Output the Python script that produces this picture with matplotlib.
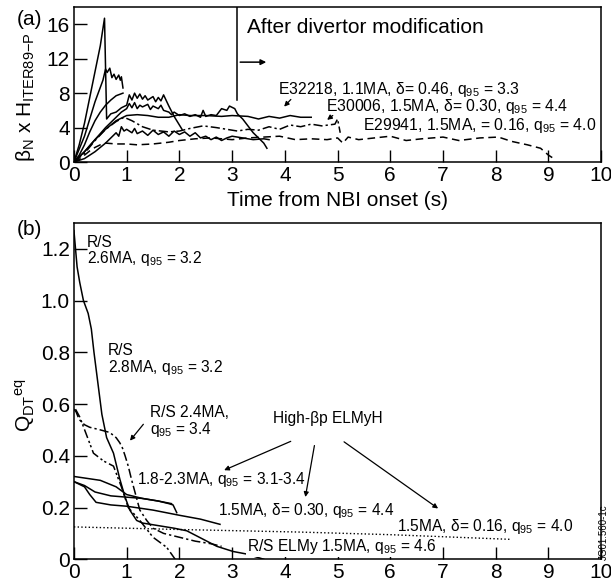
import matplotlib
matplotlib.use("Agg")
import matplotlib.pyplot as plt

plt.rcParams['font.family'] = ['Liberation Sans', 'DejaVu Sans']
plt.rcParams['mathtext.fontset'] = 'custom'
plt.rcParams['mathtext.rm'] = 'Liberation Sans'
plt.rcParams['mathtext.it'] = 'Liberation Sans:italic'

# ---- panel (a): beta_N x H89 vs time from NBI onset ----
spike_t = [0, 0.1, 0.2, 0.3, 0.4, 0.5, 0.58, 0.62, 0.7, 0.8, 0.9, 1.0, 1.05, 1.1, 1.15,
           1.2, 1.25, 1.3, 1.35, 1.4, 1.5, 1.55, 1.6, 1.65, 1.7, 1.8, 1.9, 2.0, 2.05]
spike_v = [0, 2.0, 4.5, 7.5, 10.5, 13.5, 16.7, 5.0, 5.6, 5.8, 6.3, 6.6, 7.8, 7.2, 8.0,
           7.4, 7.9, 7.3, 7.7, 7.2, 7.6, 7.0, 7.5, 7.1, 7.8, 6.5, 5.3, 4.3, 3.8]

peak11_t = [0, 0.2, 0.4, 0.55, 0.6, 0.63, 0.68, 0.72, 0.76, 0.8, 0.85, 0.88, 0.9, 0.93]
peak11_v = [0, 3.0, 7.0, 9.5, 10.8, 10.4, 10.9, 9.8, 10.2, 9.6, 10.1, 9.5, 9.9, 8.6]

rise8_t = [0, 0.1, 0.2, 0.3, 0.4, 0.5, 0.6, 0.7, 0.8, 0.93]
rise8_v = [0, 0.8, 2.0, 3.5, 4.8, 5.8, 6.6, 7.2, 7.7, 8.0]

noisy_t = [0, 0.2, 0.4, 0.6, 0.8, 0.9, 1.0, 1.05, 1.1, 1.15, 1.2, 1.25, 1.3, 1.4, 1.45,
           1.5, 1.6, 1.65, 1.7, 1.8, 1.85, 1.9, 2.0, 2.1, 2.2, 2.3, 2.4, 2.45, 2.5, 2.6,
           2.7, 2.8, 2.9, 2.95, 3.05, 3.1, 3.2, 3.3, 3.4, 3.5, 3.6, 3.66]
noisy_v = [0, 1.2, 2.6, 4.0, 5.2, 5.8, 6.2, 6.8, 6.3, 6.9, 6.2, 6.6, 6.4, 6.7, 6.1,
           6.5, 6.2, 6.6, 6.0, 5.8, 5.5, 5.8, 5.4, 5.6, 5.3, 5.5, 5.2, 6.0, 5.3, 5.5,
           5.4, 6.2, 6.0, 6.5, 6.2, 5.6, 5.0, 4.2, 3.4, 2.8, 2.2, 1.6]

e32218_t = [0, 0.2, 0.4, 0.6, 0.8, 1.0, 1.2, 1.4, 1.6, 1.8, 2.0, 2.2, 2.5, 2.8, 3.0,
            3.3, 3.5, 3.7, 3.9, 4.1, 4.3, 4.5]
e32218_v = [0, 1.2, 2.6, 3.8, 4.8, 5.4, 5.5, 5.4, 5.2, 5.2, 5.5, 5.4, 5.4, 5.3, 5.4,
            5.3, 5.0, 5.3, 5.1, 5.4, 5.2, 5.2]

low_t = [0, 0.2, 0.4, 0.6, 0.7, 0.8, 0.85, 0.9, 0.95, 1.0, 1.1, 1.15, 1.2, 1.3, 1.4,
         1.5, 1.6, 1.7, 1.8, 1.9, 2.0, 2.1, 2.2, 2.3, 2.4, 2.5, 2.6, 2.7, 2.8, 2.9,
         3.0, 3.2, 3.4, 3.6, 3.7]
low_v = [0, 0.4, 1.2, 2.2, 2.8, 3.4, 3.0, 4.1, 3.6, 3.8, 3.4, 3.9, 3.3, 3.6, 3.1,
         3.7, 3.2, 3.5, 3.0, 3.6, 3.2, 3.5, 3.0, 3.4, 2.8, 3.0, 2.6, 2.9, 2.5, 2.8,
         3.0, 2.8, 2.6, 2.7, 2.6]

e30006_t = [0, 0.2, 0.4, 0.6, 0.8, 0.95, 1.1, 1.3, 1.5, 1.8, 2.0, 2.2, 2.45, 2.7, 2.9,
            3.1, 3.3, 3.5, 3.7, 3.9, 4.1, 4.3, 4.5, 4.7, 4.95, 5.0, 5.05]
e30006_v = [0, 1.0, 2.5, 3.8, 4.7, 5.2, 4.8, 4.1, 3.7, 3.5, 3.6, 3.9, 4.2, 4.0, 3.8,
            3.6, 3.8, 3.7, 4.1, 3.8, 4.3, 4.1, 4.4, 4.2, 4.4, 5.0, 3.4]

e29941_t = [0, 0.1, 0.2, 0.3, 0.4, 0.5, 0.6, 0.8, 1.0, 1.2, 1.5, 1.8, 2.0, 2.3, 2.6,
            3.0, 3.3, 3.6, 3.9, 4.2, 4.5, 4.8, 5.0, 5.1, 5.2, 5.4, 5.7, 6.0, 6.3, 6.6,
            7.0, 7.3, 7.7, 8.05, 8.3, 8.6, 8.85, 9.0, 9.1]
e29941_v = [0, 0.3, 0.8, 1.3, 1.7, 2.0, 2.2, 2.1, 2.1, 2.0, 2.1, 2.3, 2.5, 2.7, 2.8,
            2.6, 2.8, 2.9, 3.0, 2.6, 2.7, 2.6, 2.8, 2.2, 2.9, 2.6, 2.8, 3.0, 2.5, 2.7,
            2.9, 2.5, 2.8, 2.9, 2.4, 2.0, 1.6, 0.8, 0.4]

# ---- panel (b): Q_DT equivalent vs same time ----
rs_t = [0, 0.03, 0.06, 0.11, 0.18, 0.27, 0.33, 0.38, 0.43, 0.53, 0.62, 0.75, 0.87,
        0.97, 1.06, 1.19, 1.3, 1.6, 1.9, 2.14, 2.33, 2.71, 3.02, 3.28, 3.6]
rs_v = [1.27, 1.2, 1.13, 1.07, 1.0, 0.95, 0.89, 0.8, 0.72, 0.56, 0.47, 0.41, 0.31,
        0.24, 0.19, 0.15, 0.14, 0.13, 0.12, 0.11, 0.09, 0.05, 0.03, 0.02, 0.0]

rs24_t = [0, 0.04, 0.1, 0.2, 0.3, 0.5, 0.68, 0.8, 0.87, 0.92, 0.97, 1.03, 1.09, 1.17,
          1.25, 1.38, 1.5, 1.7, 2.0, 2.3, 2.6, 2.8]
rs24_v = [0.58, 0.57, 0.54, 0.52, 0.51, 0.50, 0.49, 0.47, 0.45, 0.43, 0.40, 0.36, 0.31,
          0.25, 0.19, 0.15, 0.12, 0.10, 0.085, 0.07, 0.06, 0.05]

rs2_t = [0.03, 0.11, 0.24, 0.37, 0.56, 0.75, 0.9, 1.03, 1.25, 1.5, 1.76, 1.92]
rs2_v = [0.58, 0.55, 0.48, 0.41, 0.38, 0.36, 0.28, 0.20, 0.15, 0.085, 0.046, 0.0]

hbp1_t = [0, 0.5, 0.8, 1.0, 1.3, 1.6, 1.8, 1.88, 1.95]
hbp1_v = [0.32, 0.305, 0.28, 0.25, 0.235, 0.225, 0.215, 0.21, 0.18]
hbp2_t = [0, 0.2, 0.3, 0.42, 0.7, 1.0, 1.5, 2.0, 2.4, 2.77]
hbp2_v = [0.30, 0.28, 0.25, 0.22, 0.21, 0.205, 0.19, 0.17, 0.155, 0.135]
hbp3_t = [0, 0.2, 0.4, 0.7, 1.0, 1.3, 1.6, 1.85]
hbp3_v = [0.30, 0.285, 0.26, 0.245, 0.24, 0.235, 0.225, 0.215]

elmy_t = [0, 2.0, 4.3, 6.0, 8.27]
elmy_v = [0.125, 0.115, 0.105, 0.095, 0.077]

fig = plt.figure(figsize=(6.11, 5.85), dpi=100)
ax1 = fig.add_axes([0.121, 0.723, 0.863, 0.265])
ax2 = fig.add_axes([0.121, 0.044, 0.863, 0.575])

lw = 1.1
ax1.plot(spike_t, spike_v, 'k-', lw=lw)
ax1.plot(peak11_t, peak11_v, 'k-', lw=lw)
ax1.plot(rise8_t, rise8_v, 'k-', lw=lw)
ax1.plot(noisy_t, noisy_v, 'k-', lw=lw)
ax1.plot(e32218_t, e32218_v, 'k-', lw=lw)
ax1.plot(low_t, low_v, 'k-', lw=lw)
ax1.plot(e30006_t, e30006_v, 'k', lw=lw, dashes=[6, 2, 1.5, 2])
ax1.plot(e29941_t, e29941_v, 'k', lw=lw, dashes=[5, 3])

# divertor modification marker
ax1.plot([3.1, 3.1], [7.2, 18], 'k-', lw=lw)
ax1.annotate('', xy=(3.7, 11.6), xytext=(3.1, 11.6),
             arrowprops=dict(arrowstyle='-|>', color='k', lw=lw, mutation_scale=8))
ax1.text(3.28, 15.6, 'After divertor modification', fontsize=15, va='center')

fa = 11.3
ax1.text(3.87, 8.4, 'E32218, 1.1MA, δ= 0.46, q$_{95}$ = 3.3', fontsize=fa, va='center')
ax1.annotate('', xy=(3.95, 6.2), xytext=(4.15, 7.5),
             arrowprops=dict(arrowstyle='-|>', color='k', lw=0.9, mutation_scale=7))
ax1.text(4.78, 6.4, 'E30006, 1.5MA, δ= 0.30, q$_{95}$ = 4.4', fontsize=fa, va='center')
ax1.annotate('', xy=(4.76, 4.7), xytext=(4.95, 5.6),
             arrowprops=dict(arrowstyle='-|>', color='k', lw=0.9, mutation_scale=7))
ax1.text(5.48, 4.2, 'E29941, 1.5MA, = 0.16, q$_{95}$ = 4.0', fontsize=fa, va='center')

ax1.set_xlim(0, 10)
ax1.set_ylim(0, 18)
ax1.set_xticks(range(0, 11))
ax1.set_yticks([0, 4, 8, 12, 16])
ax1.set_xlabel('Time from NBI onset (s)', fontsize=15, labelpad=4)
ax1.set_ylabel('β$_{\\rm N}$ x H$_{\\rm ITER89{-}P}$', fontsize=15)
ax1.yaxis.set_label_coords(-0.07, 0.42)

ax2.plot(rs_t, rs_v, 'k-', lw=lw)
ax2.plot(rs24_t, rs24_v, 'k', lw=lw, dashes=[6, 2, 1.5, 2])
ax2.plot(rs2_t, rs2_v, 'k', lw=lw, dashes=[6, 2, 1.5, 1.5, 1.5, 2])
ax2.plot(hbp1_t, hbp1_v, 'k-', lw=lw)
ax2.plot(hbp2_t, hbp2_v, 'k-', lw=lw)
ax2.plot(hbp3_t, hbp3_v, 'k-', lw=lw)
ax2.plot(elmy_t, elmy_v, 'k:', lw=1.0)

fs = 11.2
ax2.text(0.25, 1.255, 'R/S\n2.6MA, q$_{95}$ = 3.2', fontsize=fs, va='top', linespacing=0.95)
ax2.text(0.65, 0.835, 'R/S\n2.8MA, q$_{95}$ = 3.2', fontsize=fs, va='top', linespacing=0.95)
ax2.text(1.44, 0.595, 'R/S 2.4MA,\nq$_{95}$ = 3.4', fontsize=fs, va='top', linespacing=0.95)
ax2.annotate('', xy=(1.03, 0.45), xytext=(1.35, 0.53),
             arrowprops=dict(arrowstyle='-|>', color='k', lw=0.9, mutation_scale=7))
ax2.text(3.78, 0.545, 'High-βp ELMyH', fontsize=fs, va='center')
ax2.text(1.19, 0.31, '1.8-2.3MA, q$_{95}$ = 3.1-3.4', fontsize=fs, va='center')
ax2.text(2.74, 0.19, '1.5MA, δ= 0.30, q$_{95}$ = 4.4', fontsize=fs, va='center')
ax2.text(6.12, 0.125, '1.5MA, δ= 0.16, q$_{95}$ = 4.0', fontsize=fs, va='center')
ax2.text(3.28, 0.048, 'R/S ELMy 1.5MA, q$_{95}$ = 4.6', fontsize=fs, va='center',
         bbox=dict(facecolor='white', edgecolor='none', pad=0.5))
for tail, head in [((4.16, 0.46), (2.8, 0.34)), ((4.57, 0.45), (4.38, 0.23)),
                   ((5.08, 0.46), (6.95, 0.19))]:
    ax2.annotate('', xy=head, xytext=tail,
                 arrowprops=dict(arrowstyle='-|>', color='k', lw=0.9, mutation_scale=7))

ax2.set_xlim(0, 10)
ax2.set_ylim(0, 1.3)
ax2.set_xticks(range(0, 11))
ax2.set_yticks([0, 0.2, 0.4, 0.6, 0.8, 1.0, 1.2])
ax2.set_yticklabels(['0', '0.2', '0.4', '0.6', '0.8', '1.0', '1.2'])
ax2.set_ylabel('Q$_{\\rm DT}{}^{\\rm eq}$', fontsize=15)
ax2.yaxis.set_label_coords(-0.07, 0.46)

for ax in (ax1, ax2):
    ax.tick_params(direction='in', length=9, width=1.0, labelsize=15, pad=3,
                   top=False, right=False)
    for s in ax.spines.values():
        s.set_linewidth(1.1)

fig.text(0.028, 0.966, '(a)', fontsize=15, va='center')
fig.text(0.028, 0.607, '(b)', fontsize=15, va='center')
fig.text(0.996, 0.043, 'JG01.560-1c', fontsize=7, rotation=90, ha='right', va='bottom')

fig.savefig('out.png', dpi=100)
